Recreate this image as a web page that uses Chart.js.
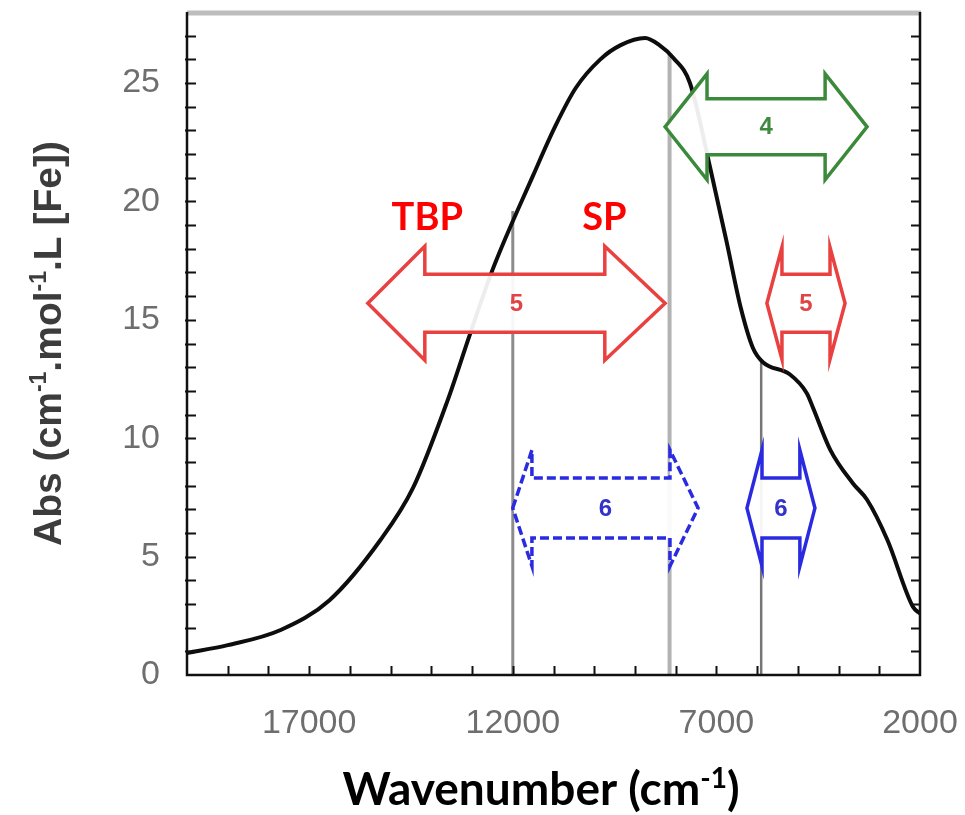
<!DOCTYPE html>
<html>
<head>
<meta charset="utf-8">
<script src="https://cdn.jsdelivr.net/npm/chart.js@4.4.1/dist/chart.umd.min.js"></script>
<style>
  html, body { margin: 0; background: #fff; }
  #wrap { width: 965px; height: 815px; }
</style>
</head>
<body>
<div id="wrap"><canvas id="spectrum"></canvas></div>
<script>
// absorption spectrum
const wavenumber = [20000, 19000, 17700, 16500, 15250, 14450, 13600, 13050, 12500, 11500,
  10950, 10450, 9850, 9350, 8750, 8400, 8050, 7650, 7150, 6750,
  6400, 6100, 5850, 5200, 4780, 4630, 4200, 3650, 3300, 2800, 2170, 2000];
const absorbance = [0.93, 1.26, 1.9, 3.16, 5.7, 7.9, 11.6, 14.4, 17.1, 21.1,
  23.2, 24.8, 26.0, 26.6, 26.9, 26.6, 26.05, 25.0, 21.4, 18.3,
  15.5, 13.8, 13.2, 12.7, 11.9, 11.3, 9.5, 8.1, 7.4, 5.7, 2.87, 2.6];

const xTicks = [2000, 7000, 12000, 17000];
const yTicks = [0, 5, 10, 15, 20, 25];

// vertical marker lines: position and where they meet the curve
const markerX = [12000, 8150, 5900];
const markerTop = [19.6, 26.2, 13.3];

// double arrows: [left tip, left head base, right head base, right tip] in cm-1
const arrowSpans = [
  [15560, 14160, 9740, 8260],
  [8260, 7230, 4330, 3300],
  [5760, 5390, 4210, 3840],
  [12000, 11530, 8140, 7450],
  [6250, 5880, 4950, 4580]
];
const arrowLevels = [15.7, 23.15, 15.7, 7.05, 7.05];
const arrowLabels = ['5', '4', '5', '6', '6'];

const siteLabels = ['TBP', 'SP'];
const siteX = [14100, 9750];
const siteY = [19.3, 19.3];

const arrowStyles = [
  { color: '#e8413f', text: '#e04545', shaft: 29, head: 57 },
  { color: '#3b8a3b', text: '#3f8a3f', shaft: 28, head: 53 },
  { color: '#e8413f', text: '#e04545', shaft: 29, head: 56 },
  { color: '#2a2ae0', text: '#3333cc', shaft: 30, head: 58, dash: [9, 4] },
  { color: '#2a2ae0', text: '#3333cc', shaft: 30, head: 58 }
];

function arrowPath(ctx, p, yc, sh, hh) {
  ctx.beginPath();
  ctx.moveTo(p[0], yc);
  ctx.lineTo(p[1], yc - hh);
  ctx.lineTo(p[1], yc - sh);
  ctx.lineTo(p[2], yc - sh);
  ctx.lineTo(p[2], yc - hh);
  ctx.lineTo(p[3], yc);
  ctx.lineTo(p[2], yc + hh);
  ctx.lineTo(p[2], yc + sh);
  ctx.lineTo(p[1], yc + sh);
  ctx.lineTo(p[1], yc + hh);
  ctx.closePath();
}

// draws text made of [string, isSuperscript] parts, centred on cx
function drawRich(ctx, parts, cx, baseline, size, family) {
  const supSize = Math.round(size * 0.6);
  let total = 0;
  parts.forEach(([t, sup]) => {
    ctx.font = 'bold ' + (sup ? supSize : size) + 'px ' + family;
    total += ctx.measureText(t).width;
  });
  let x = cx - total / 2;
  ctx.textAlign = 'left';
  ctx.textBaseline = 'alphabetic';
  parts.forEach(([t, sup]) => {
    ctx.font = 'bold ' + (sup ? supSize : size) + 'px ' + family;
    ctx.fillText(t, x, sup ? baseline - size * 0.38 : baseline);
    x += ctx.measureText(t).width;
  });
}

const decor = {
  id: 'decor',
  afterDatasetsDraw(chart) {
    const ctx = chart.ctx;
    const xs = chart.scales.x, ys = chart.scales.y;
    ctx.save();
    arrowSpans.forEach((span, i) => {
      const st = arrowStyles[i];
      const p = span.map(v => xs.getPixelForValue(v));
      const yc = ys.getPixelForValue(arrowLevels[i]);
      arrowPath(ctx, p, yc, st.shaft, st.head);
      ctx.fillStyle = 'rgba(255,255,255,0.93)';
      ctx.fill();
      ctx.setLineDash(st.dash || []);
      ctx.lineWidth = 3.5;
      ctx.lineJoin = 'miter';
      ctx.strokeStyle = st.color;
      ctx.stroke();
      ctx.setLineDash([]);
      ctx.fillStyle = st.text;
      ctx.font = 'bold 24px "Liberation Sans", Arial, sans-serif';
      ctx.textAlign = 'center';
      ctx.textBaseline = 'middle';
      ctx.fillText(arrowLabels[i], (p[0] + p[3]) / 2, yc + 1);
    });
    ctx.fillStyle = '#ff0000';
    ctx.font = 'bold 38px Lato, "Open Sans", sans-serif';
    ctx.textAlign = 'center';
    ctx.textBaseline = 'middle';
    siteLabels.forEach((t, i) => {
      ctx.fillText(t, xs.getPixelForValue(siteX[i]), ys.getPixelForValue(siteY[i]));
    });
    ctx.restore();
  },
  afterDraw(chart) {
    const ctx = chart.ctx;
    const a = chart.chartArea;
    const xs = chart.scales.x, ys = chart.scales.y;
    ctx.save();
    // frame
    ctx.strokeStyle = '#bdbdbd';
    ctx.lineWidth = 5;
    ctx.beginPath();
    ctx.moveTo(a.left, a.top + 1);
    ctx.lineTo(a.right + 1, a.top + 1);
    ctx.stroke();
    ctx.strokeStyle = '#111';
    ctx.lineWidth = 2.5;
    ctx.beginPath();
    ctx.moveTo(a.left, a.top);
    ctx.lineTo(a.left, a.bottom);
    ctx.lineTo(a.right, a.bottom);
    ctx.lineTo(a.right, a.top);
    ctx.stroke();
    // inward minor ticks
    ctx.lineWidth = 2;
    ctx.beginPath();
    for (let v = 1; v <= 27; v++) {
      const y = Math.round(ys.getPixelForValue(v)) + 0.5;
      ctx.moveTo(a.left - 2, y); ctx.lineTo(a.left + 9, y);
      ctx.moveTo(a.right, y); ctx.lineTo(a.right - 9, y);
    }
    for (let v = 3000; v < 20000; v += 1000) {
      const x = Math.round(xs.getPixelForValue(v)) + 0.5;
      ctx.moveTo(x, a.bottom); ctx.lineTo(x, a.bottom - 9);
    }
    ctx.stroke();
    // axis titles
    ctx.fillStyle = '#000';
    drawRich(ctx, [['Wavenumber (cm', false], ['-1', true], [')', false]],
      541, 805, 46, 'Lato, "Open Sans", sans-serif');
    ctx.translate(61, (a.top + a.bottom) / 2);
    ctx.rotate(-Math.PI / 2);
    ctx.fillStyle = '#3c3c3c';
    drawRich(ctx, [['Abs (cm', false], ['-1', true], ['.mol', false], ['-1', true], ['.L [Fe])', false]],
      0, 0, 39, '"Liberation Sans", Arial, sans-serif');
    ctx.restore();
  }
};

const curve = wavenumber.map((w, i) => ({ x: w, y: absorbance[i] }));
const markerSets = markerX.map((w, i) => ({
  data: [{ x: w, y: 0 }, { x: w, y: markerTop[i] }],
  borderColor: ['#8c8c8c', '#b3b3b3', '#767676'][i],
  borderWidth: [3, 4, 2.5][i],
  pointRadius: 0,
  order: 2
}));

const tickFont = { family: '"Liberation Sans", Arial, sans-serif', size: 34 };

new Chart(document.getElementById('spectrum'), {
  type: 'line',
  data: {
    datasets: [
      {
        data: curve,
        borderColor: '#0d0d0d',
        borderWidth: 4,
        pointRadius: 0,
        cubicInterpolationMode: 'monotone',
        order: 1
      },
      ...markerSets
    ]
  },
  options: {
    responsive: true,
    maintainAspectRatio: false,
    animation: false,
    layout: { padding: { top: 12, right: 45, left: 0, bottom: 0 } },
    plugins: { legend: { display: false }, tooltip: { enabled: false } },
    scales: {
      x: {
        type: 'linear',
        min: 2000,
        max: 20000,
        reverse: true,
        grid: { display: false, drawTicks: false },
        border: { display: false },
        afterBuildTicks: s => { s.ticks = xTicks.map(v => ({ value: v })); },
        afterFit: s => {
          s.height = 140;
          s.paddingLeft = 0;
          s.paddingRight = 0;
        },
        ticks: {
          font: tickFont,
          color: '#6e6e6e',
          padding: 28,
          maxRotation: 0,
          autoSkip: false,
          callback: v => String(v)
        }
      },
      y: {
        min: 0,
        max: 28,
        grid: { display: false, drawTicks: false },
        border: { display: false },
        afterBuildTicks: s => { s.ticks = yTicks.map(v => ({ value: v })); },
        afterFit: s => {
          s.width = 187;
          s.paddingTop = 0;
          s.paddingBottom = 0;
        },
        ticks: {
          font: tickFont,
          color: '#6e6e6e',
          padding: 27,
          callback: v => String(v)
        }
      }
    }
  },
  plugins: [decor]
});
</script>
</body>
</html>
